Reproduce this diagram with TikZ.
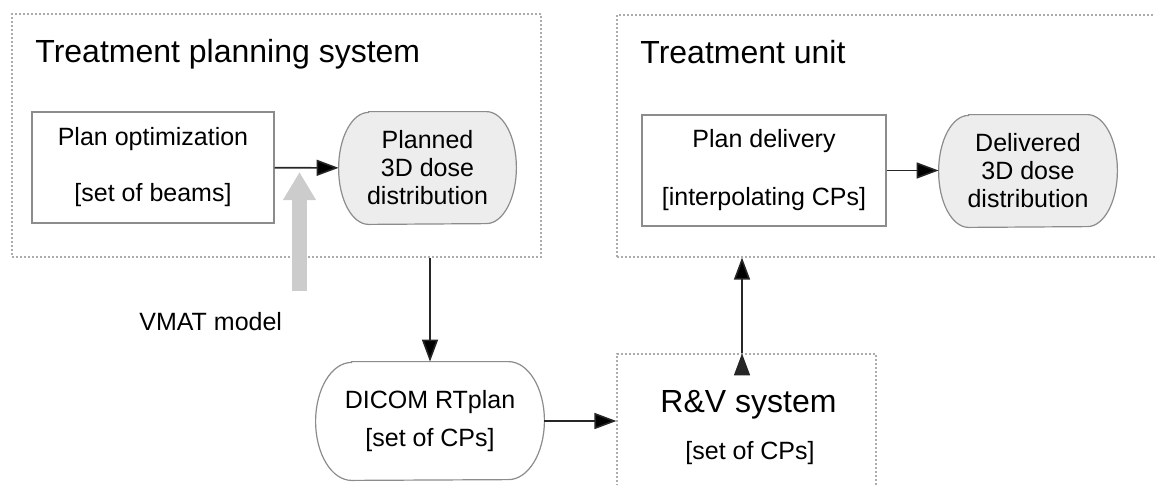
\documentclass[tikz,border=0pt]{standalone}
\usepackage{fontspec}
\setmainfont{Liberation Sans}
\usetikzlibrary{arrows.meta,backgrounds}
\tikzset{>={Triangle[length=11pt,width=8pt]}}
\tikzset{container/.style={draw=gray!65,line width=0.6pt,dash pattern=on 1pt off 1pt,inner sep=0pt},
            block/.style={draw=gray!90,line width=0.6pt,inner sep=0pt,align=center,font=\fontsize{12.5}{14}\selectfont},
            dose/.style={inner sep=0pt,align=center,font=\fontsize{12.5}{14}\selectfont},
            title/.style={anchor=base,inner sep=0pt,font=\fontsize{16}{19}\selectfont},
            label/.style={anchor=base,inner sep=0pt,font=\fontsize{12.5}{14}\selectfont},
            flow/.style={draw=black!85,line width=0.8pt,->},
            model arrow/.style={draw=gray!40,line width=7.5pt,-{Triangle[length=14pt,width=15.5pt]}}
            }
% outline with half-ellipse ends round a node
\newcommand{\stadium}[4]{%
  \draw[draw=gray!90,line width=0.6pt,fill=#4] ([xshift=#2]#1.north west) -- ([xshift=-#2]#1.north east)
    arc[start angle=90,end angle=-90,x radius=#2,y radius=#3] -- ([xshift=#2]#1.south west)
    arc[start angle=270,end angle=90,x radius=#2,y radius=#3] -- cycle;}

\begin{document}
\begin{tikzpicture}[x=0.5pt,y=-0.5pt]
    \useasboundingbox (0,0) rectangle (1155,484);
    \clip (0,0) rectangle (1155,484);

    % containers
    \node[container,minimum width=264.5pt,minimum height=121.5pt] (tps) at (276.5,135.5) {};
    \node[container,minimum width=276.5pt,minimum height=121pt] (tu) at (893.5,136) {};
    \node[container,minimum width=129.5pt,minimum height=88pt] (rv) at (746.5,442) {};
    \node[title,anchor=base west] (tpstitle) at (35,62) {Treatment planning system};
    \node[title,anchor=base west] (tutitle) at (640,63) {Treatment unit};
    \node[title] (rvtitle) at (748.5,412) {R\&V system};
    \node[label] (rvcps) at (750,459) {[set of CPs]};

    % blocks
    \node[block,minimum width=121pt,minimum height=55.5pt] (opt) at (153,167.5) {Plan optimization\\[14pt]{[}set of beams]};
    \node[dose,minimum width=88.5pt,minimum height=56pt] (planned) at (427.5,168) {Planned\\3D dose\\distribution};
    \node[block,minimum width=122pt,minimum height=55.5pt] (delivery) at (764,170.5) {Plan delivery\\[15pt]{[}interpolating CPs]};
    \node[dose,minimum width=89pt,minimum height=56pt] (delivered) at (1028,171) {Delivered\\3D dose\\distribution};
    \node[dose,minimum width=114pt,minimum height=59pt] (dicom) at (430,421) {DICOM RTplan\\[5pt]{[}set of CPs]};
    \node[label,anchor=base west] (vmat) at (139,330) {VMAT model};

    \begin{scope}[on background layer]
        \stadium{planned}{15pt}{28pt}{black!7}
        \stadium{delivered}{15pt}{28pt}{black!7}
        \stadium{dicom}{18pt}{29.5pt}{white}
    \end{scope}

    % connectors
    \path[flow]
    (opt) edge (planned)
    (delivery.east) edge (delivery.east -| delivered.west)
    (dicom.north |- tps.south) edge (dicom.north)
    (dicom.east) edge (dicom.east -| rv.west)
    (rv.north -| 742,0) edge (tu.south -| 742,0);

    \coordinate (model start) at (299.5,291);
    \coordinate (model tip) at (299.5,172);
    \draw[model arrow] (model start) -- (model tip);

\end{tikzpicture}
\end{document}
